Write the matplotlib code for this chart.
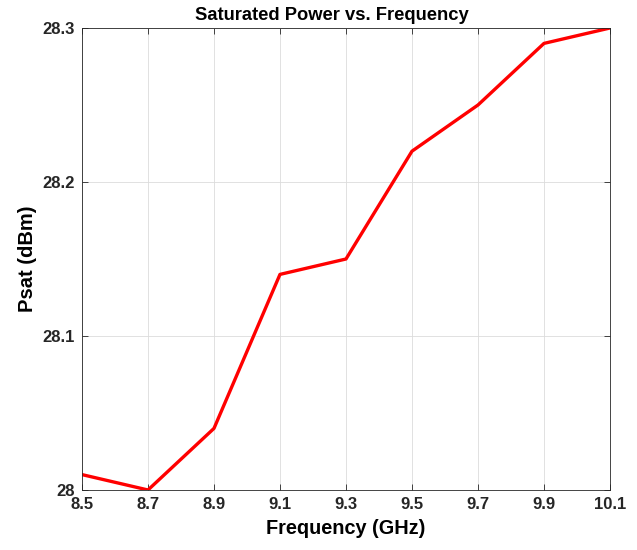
from matplotlib import pyplot as plt

# values
freq = [8.5, 8.7, 8.9, 9.1, 9.3, 9.5, 9.7, 9.9, 10.1]
psat = [28.01, 28.0, 28.04, 28.14, 28.15, 28.22, 28.25, 28.29, 28.3]
xticks = [8.5, 8.7, 8.9, 9.1, 9.3, 9.5, 9.7, 9.9, 10.1]
yticks = [28.0, 28.1, 28.2, 28.3]
ytick_labels = ['28', '28.1', '28.2', '28.3']

plt.rcParams['font.family'] = ['Liberation Sans', 'DejaVu Sans']
plt.rcParams['font.weight'] = 'bold'

fig = plt.figure(figsize=(6.37, 5.5), dpi=100)
ax = fig.add_axes([0.1287, 0.1091, 0.8289, 0.8400])

ax.plot(freq, psat, color='#ff0000', linewidth=2.4)

ax.set_xlim(8.5, 10.1)
ax.set_ylim(28.0, 28.3)
ax.set_xticks(xticks)
ax.set_xticklabels([f'{x:g}' for x in xticks])
ax.set_yticks(yticks)
ax.set_yticklabels(ytick_labels)
ax.tick_params(direction='in', labelsize=12, length=4, width=0.6, colors='#262626',
               top=True, right=True, pad=5)
for lab in ax.get_xticklabels() + ax.get_yticklabels():
    lab.set_fontweight('bold')
ax.grid(True, color='#dcdcdc', linewidth=0.6)
for sp in ax.spines.values():
    sp.set_linewidth(0.6)
    sp.set_color('#262626')

ax.set_title('Saturated Power vs. Frequency', fontsize=13.2, fontweight='bold', pad=6, x=0.4735)
ax.set_xlabel('Frequency (GHz)', fontsize=14.3, fontweight='bold', labelpad=5)
ax.set_ylabel('Psat (dBm)', fontsize=14.5, fontweight='bold', labelpad=4)

fig.savefig('out.png', dpi=100)
